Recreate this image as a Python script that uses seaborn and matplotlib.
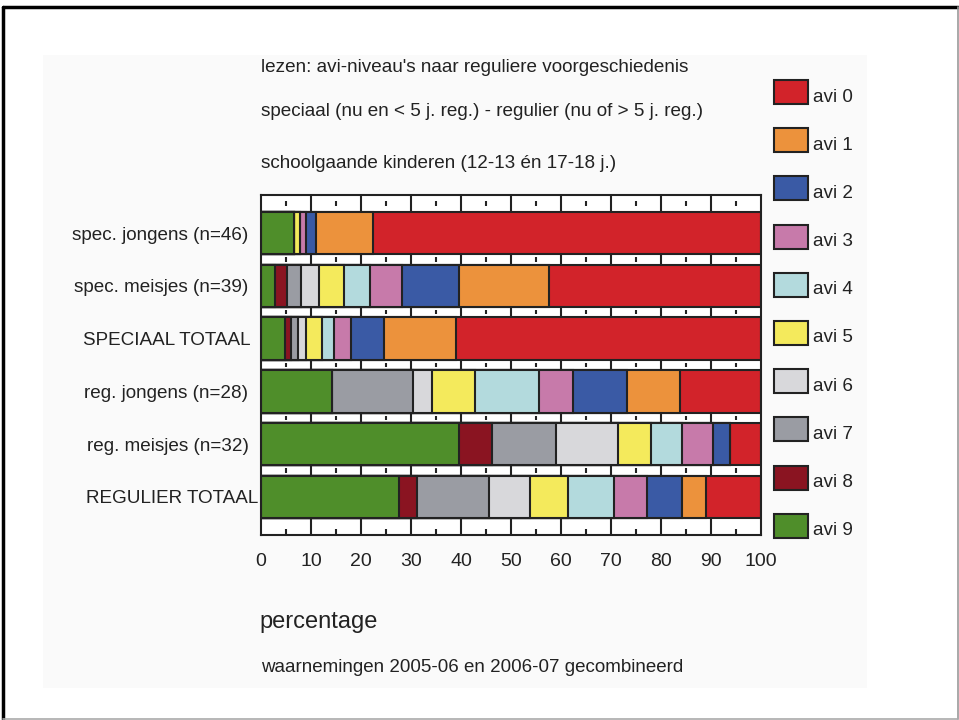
import numpy as np
import pandas as pd
import seaborn as sns
import matplotlib.pyplot as plt
from matplotlib.patches import Rectangle
from matplotlib.transforms import ScaledTranslation

# groepen (van boven naar beneden)
groups = [
    "spec. jongens (n=46)",
    "spec. meisjes (n=39)",
    "SPECIAAL TOTAAL",
    "reg. jongens (n=28)",
    "reg. meisjes (n=32)",
    "REGULIER TOTAAL",
]

# percentages per avi-niveau
avi9 = [6.5, 2.7, 4.8, 14.1, 39.6, 27.5]
avi8 = [0.0, 2.4, 1.1, 0.0, 6.6, 3.6]
avi7 = [0.0, 2.8, 1.4, 16.2, 12.7, 14.4]
avi6 = [0.0, 3.7, 1.6, 3.8, 12.4, 8.2]
avi5 = [1.3, 4.9, 3.2, 8.6, 6.6, 7.6]
avi4 = [0.0, 5.2, 2.4, 12.8, 6.2, 9.3]
avi3 = [1.1, 6.5, 3.4, 6.9, 6.2, 6.6]
avi2 = [2.1, 11.4, 6.6, 10.7, 3.4, 6.9]
avi1 = [11.3, 18.0, 14.5, 10.7, 0.0, 4.8]
avi0 = [77.7, 42.4, 61.0, 16.2, 6.3, 11.1]

levels = ["avi 0", "avi 1", "avi 2", "avi 3", "avi 4",
          "avi 5", "avi 6", "avi 7", "avi 8", "avi 9"]
colors = ["#d2232a", "#ec923c", "#3a5aa5", "#c77aaa", "#b3dadd",
          "#f4ea5c", "#d8d8db", "#9a9ca3", "#8a1421", "#4f8e2a"]

df = pd.DataFrame(
    {"avi 9": avi9, "avi 8": avi8, "avi 7": avi7, "avi 6": avi6, "avi 5": avi5,
     "avi 4": avi4, "avi 3": avi3, "avi 2": avi2, "avi 1": avi1, "avi 0": avi0},
    index=groups,
)
# stapelen van links (avi 9) naar rechts (avi 0)
cum = df.cumsum(axis=1)

sns.set_theme(style="white")
plt.rcParams["font.family"] = ["Liberation Sans", "DejaVu Sans"]

W, H = 959, 720
fig = plt.figure(figsize=(W / 100, H / 100), dpi=100)
fig.patch.set_facecolor("white")


def fx(px):
    return px / W


def fy(py):
    return 1 - py / H


# lichtgrijs paneel + kader van de dia
fig.patches.append(Rectangle((fx(43), fy(688)), 824 / W, 633 / H,
                             transform=fig.transFigure, facecolor="#fafafa",
                             edgecolor="none", zorder=-2))
fig.add_artist(plt.Line2D([fx(2.5), fx(2.5)], [fy(719), fy(7)],
                          transform=fig.transFigure, color="black", lw=2.5))
fig.add_artist(plt.Line2D([fx(2.5), fx(958)], [fy(7), fy(7)],
                          transform=fig.transFigure, color="black", lw=2.5))
fig.add_artist(plt.Line2D([fx(957.5), fx(957.5)], [fy(719), fy(7)],
                          transform=fig.transFigure, color="#999999", lw=1.2))
fig.add_artist(plt.Line2D([fx(2.5), fx(958)], [fy(718.5), fy(718.5)],
                          transform=fig.transFigure, color="#aaaaaa", lw=1.2))

ax = fig.add_axes([fx(261), fy(535), 500 / W, 340 / H])
ax.set_facecolor("white")

edge = "#222222"
# teken de cumulatieve balken van lang naar kort, zodat ze elkaar overlappen
for lvl, col in zip(levels, colors):
    sns.barplot(x=cum[lvl].values, y=groups, color=col, saturation=1,
                orient="h", width=0.8, edgecolor=edge, linewidth=1.5,
                ax=ax, zorder=2)

ylo, yhi = 5.5 + 0.22, -0.5 - 0.22
ax.set_ylim(ylo, yhi)
ax.set_xlim(0, 100)

# verticale lijnen op elke 10 en kleine streepjes op elke 5
ax.vlines(np.arange(10, 100, 10), yhi, ylo, color=edge, lw=1.5, zorder=1)
fives = np.arange(5, 100, 10)
for yc in [-0.56, 0.5, 1.5, 2.5, 3.5, 4.5]:
    ax.vlines(fives, yc - 0.04, yc + 0.04, color=edge, lw=1.5, zorder=1)

for side in ["left", "bottom", "top", "right"]:
    ax.spines[side].set_color(edge)
    ax.spines[side].set_linewidth(1.5)

ax.set_xticks(np.arange(0, 101, 10))
ax.set_xticks(fives, minor=True)
ax.tick_params(axis="x", which="major", direction="out", length=5, width=1.5,
               color=edge, labelsize=14, pad=8, labelcolor="#222222")
ax.tick_params(axis="x", which="minor", direction="in", length=4, width=1.5,
               color=edge, bottom=True)
ax.tick_params(axis="y", length=0, pad=9, labelsize=13.6, labelcolor="#222222")
ax.set_xlabel("")
ax.set_ylabel("")

# de totaal-labels staan in het origineel iets verder naar rechts
ylabels = ax.get_yticklabels()
for idx, shift in [(2, 2), (5, 10)]:
    lab = ylabels[idx]
    lab.set_transform(lab.get_transform()
                      + ScaledTranslation(shift / 100, 0, fig.dpi_scale_trans))

# teksten
txt = dict(color="#222222", ha="left", va="center")
fig.text(fx(261), fy(67),
         "lezen: avi-niveau's naar reguliere voorgeschiedenis", fontsize=13.6, **txt)
fig.text(fx(261), fy(112),
         "speciaal (nu en < 5 j. reg.) - regulier (nu of > 5 j. reg.)", fontsize=13.6, **txt)
fig.text(fx(261), fy(164),
         "schoolgaande kinderen (12-13 én 17-18 j.)", fontsize=13.6, **txt)
fig.text(fx(259), fy(622), "percentage", fontsize=17, **txt)
fig.text(fx(261), fy(668),
         "waarnemingen 2005-06 en 2006-07 gecombineerd", fontsize=13.5, **txt)

# legenda: losse blokjes met tekst ernaast
for i, (lvl, col) in enumerate(zip(levels, colors)):
    top = 80 + i * 48.2
    fig.patches.append(Rectangle((fx(774), fy(top + 24)), 34 / W, 24 / H,
                                 transform=fig.transFigure, facecolor=col,
                                 edgecolor=edge, linewidth=1.5))
    fig.text(fx(813), fy(top + 17), lvl, fontsize=13.6, **txt)

fig.savefig("out.png", dpi=100)
